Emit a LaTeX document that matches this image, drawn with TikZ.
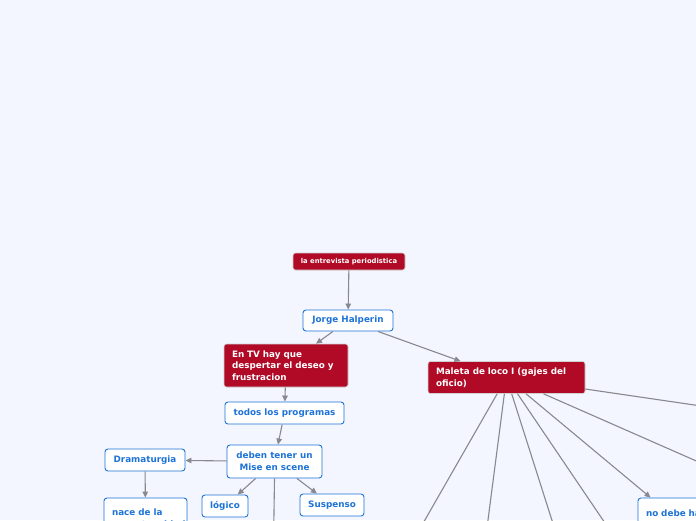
\documentclass[tikz,border=0pt]{standalone}
\usepackage{fontspec}
\setmainfont{DejaVu Sans}
\usetikzlibrary{positioning,arrows.meta}
\definecolor{bgblue}{RGB}{243,246,254}
\definecolor{topicred}{RGB}{176,10,38}
\definecolor{leafblue}{RGB}{30,115,215}
\definecolor{linegray}{RGB}{136,136,142}
\tikzset{
  topic/.style = {rectangle, draw=black!18, line width=0.6pt, rounded corners=2.5pt,
                  fill=topicred, text=white, align=left, inner sep=0pt,
                  font=\bfseries\fontsize{8.8}{11.5}\selectfont},
  leaf/.style  = {rectangle, draw=leafblue, line width=0.9pt, rounded corners=3pt,
                  fill=white, text=leafblue, align=center, inner sep=0pt,
                  font=\bfseries\fontsize{8.8}{12}\selectfont},
  arr/.style   = {-{Triangle[length=6pt,width=5.5pt]}, linegray, line width=1.1pt},
  link/.style  = {linegray, line width=1.1pt}
}

\begin{document}
\begin{tikzpicture}[x=1pt,y=-1pt]
  \useasboundingbox (0,0) rectangle (696,520);
  \fill[bgblue] (0,0) rectangle (696,520);
  \clip (0,0) rectangle (696,520);
  % main branch
  \node[topic,minimum width=112pt,minimum height=17pt,align=center,
        font=\bfseries\fontsize{6.8}{8}\selectfont] (root) at (349,261.5) {la entrevista periodistica};
  \node[leaf,minimum width=90pt,minimum height=21pt] (jorge) at (348,320.5) {Jorge Halperin};
  \node[topic,minimum width=124pt,minimum height=43pt,text width=108pt] (entv) at (286,365.5)
        {En TV hay que\\despertar el deseo y\\frustracion};
  \node[topic,minimum width=157pt,minimum height=32pt,text width=141pt] (maleta) at (506.5,377.5)
        {Maleta de loco I (gajes del\\oficio)};
  \node[leaf,minimum width=119pt,minimum height=22pt] (todos) at (284.5,413) {todos los programas};
  \node[leaf,minimum width=95pt,minimum height=33pt] (mise) at (274.5,461.5) {deben tener un\\Mise en scene};
  \node[leaf,minimum width=80pt,minimum height=22pt] (drama) at (145,460) {Dramaturgia};
  \node[leaf,minimum width=83pt,minimum height=42pt,text width=67pt,align=left] (nace) at (145.5,519)
        {nace de la\\espontaneidad};
  \node[leaf,minimum width=46pt,minimum height=22pt] (logico) at (225,506) {lógico};
  \node[leaf,minimum width=64pt,minimum height=22pt] (suspenso) at (332,505) {Suspenso};
  \node[leaf,minimum width=124pt,minimum height=42pt,text width=108pt,align=left] (nodebe) at (700,519)
        {no debe haber\\una emoción};
  % ends outside the frame
  \coordinate (mdown) at (273,580);
  \coordinate (m1) at (402,560);
  \coordinate (m2) at (482.8,560);
  \coordinate (m3) at (564.6,560);
  \coordinate (m4) at (630,560);
  \coordinate (m6) at (760,489);
  \coordinate (m7) at (760,414.6);
  % connectors
  \draw[arr](root)--(jorge);
  \draw[arr](jorge)--(entv);
  \draw[arr]([xshift=30pt]jorge.south)--([xshift=-46pt]maleta.north);
  \draw[arr](entv)--(todos);
  \draw[arr](todos)--(mise);
  \draw[arr](mise)--(drama);
  \draw[arr](drama)--(nace);
  \draw[arr](mise)--(logico);
  \draw[arr](mise)--(suspenso);
  \draw[link](mise.south)--(mdown);
  \draw[link](maleta)--(m1);
  \draw[link](maleta)--(m2);
  \draw[link](maleta)--(m3);
  \draw[link](maleta)--(m4);
  \draw[arr](maleta)--([xshift=13pt]nodebe.north west);
  \draw[link](maleta)--(m6);
  \draw[link](maleta)--(m7);
\end{tikzpicture}
\end{document}
